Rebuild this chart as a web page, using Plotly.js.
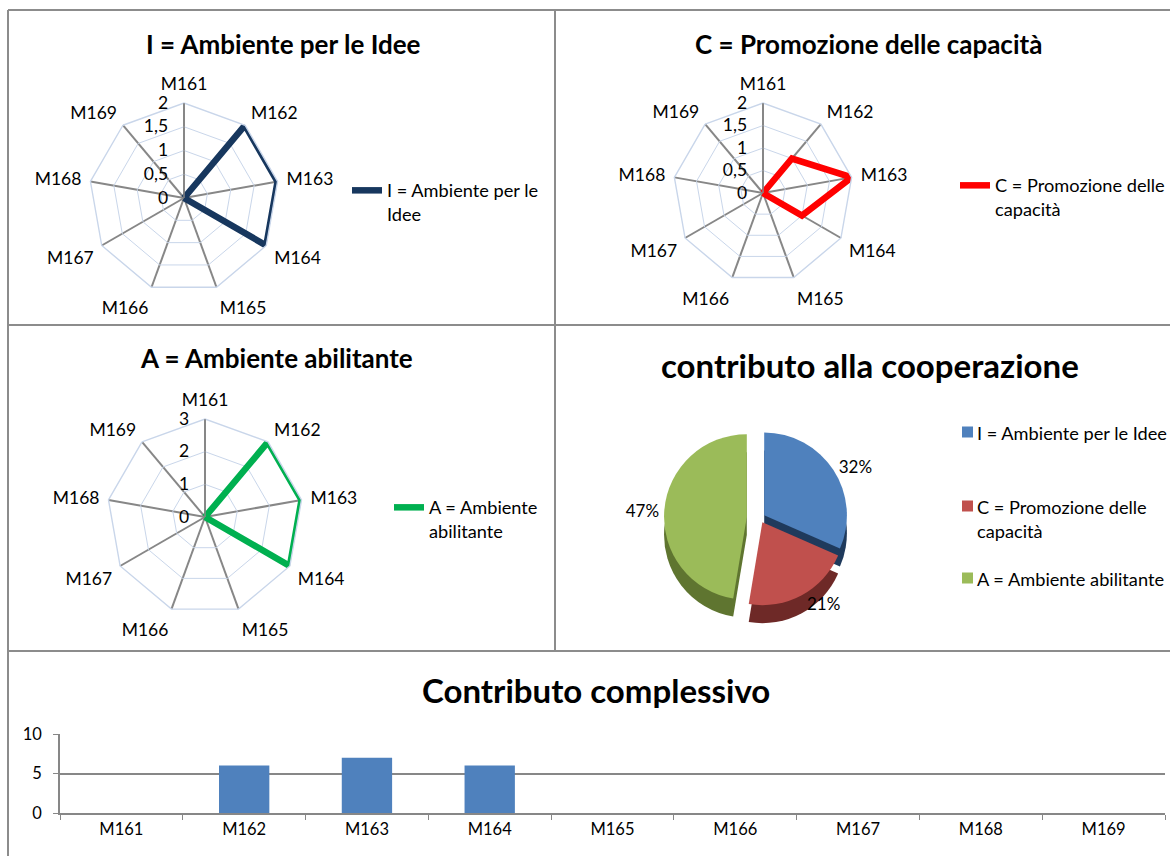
<!DOCTYPE html>
<html>
<head>
<meta charset="utf-8">
<script src="https://cdn.plot.ly/plotly-3.0.1.min.js"></script>
<style>
html,body{margin:0;padding:0;background:#fff;}
#chart{width:1170px;height:856px;}
</style>
</head>
<body>
<div id="chart"></div>
<script>
// ---- data ----
const categories = ['M161','M162','M163','M164','M165','M166','M167','M168','M169'];
const valuesI = [0, 2, 2, 2, 0, 0, 0, 0, 0];
const valuesC = [0, 1, 2, 1, 0, 0, 0, 0, 0];
const valuesA = [0, 3, 3, 3, 0, 0, 0, 0, 0];
const seriesNames = ['I = Ambiente per le Idee', 'C = Promozione delle capacità', 'A = Ambiente abilitante'];
const radarLegendLabels = ['I = Ambiente per le<br>Idee', 'C = Promozione delle<br>capacità', 'A = Ambiente<br>abilitante'];
const pieValues = [6, 4, 9];
const pieLegendLabels = ['I = Ambiente per le Idee', 'C = Promozione delle<br>capacità', 'A = Ambiente abilitante'];
const barValues = [0, 6, 7, 6, 0, 0, 0, 0, 0];
const chartTitles = ['I = Ambiente per le Idee', 'C = Promozione delle capacità', 'A = Ambiente abilitante', 'contributo alla cooperazione', 'Contributo complessivo'];

// ---- helpers (pixel -> paper) ----
const W = 1170, H = 856;
const px = x => x / W;
const py = y => 1 - y / H;
const FONT = 'Lato, "Open Sans", sans-serif';
const SPOKE = '#878787';
const RING = '#C9D6EA';
const TXT = 18.2;

function closeLoop(arr){ return arr.concat([arr[0]]); }

function radarTrace(vals, name, legendLabel, color, subplot, legendId){
  return {
    type:'scatterpolar', mode:'lines',
    r: closeLoop(vals), theta: closeLoop(categories),
    name: legendLabel, subplot: subplot, legend: legendId,
    line:{color:color, width:6.5},
    hovertemplate: name + '<br>%{theta}: %{r}<extra></extra>'
  };
}

function polarLayout(cx, cy, rad, rmax, dtick){
  return {
    domain:{x:[px(cx-rad), px(cx+rad)], y:[py(cy+rad), py(cy-rad)]},
    bgcolor:'rgba(0,0,0,0)',
    gridshape:'linear',
    radialaxis:{
      range:[0, rmax], tick0:0, dtick:dtick, angle:90, side:'counterclockwise', tickangle:90,
      showline:true, linecolor:SPOKE, linewidth:1.5,
      gridcolor:RING, gridwidth:1.4, ticks:'outside', ticklen:9, tickcolor:'rgba(0,0,0,0)',
      tickfont:{family:FONT, size:17.5, color:'#000'}
    },
    angularaxis:{
      type:'category', categoryarray:categories, rotation:90, direction:'clockwise',
      gridcolor:SPOKE, gridwidth:1.6, showline:true, linecolor:RING, linewidth:1.4,
      ticks:'outside', ticklen:5, tickcolor:'rgba(0,0,0,0)',
      tickfont:{family:FONT, size:17.5, color:'#000'}
    }
  };
}

const pieDomX = [px(605), px(915)];
const traces = [
  radarTrace(valuesI, seriesNames[0], radarLegendLabels[0], '#17375E', 'polar', 'legend'),
  radarTrace(valuesC, seriesNames[1], radarLegendLabels[1], '#FF0000', 'polar2', 'legend2'),
  radarTrace(valuesA, seriesNames[2], radarLegendLabels[2], '#00B050', 'polar3', 'legend3'),
  // pie "depth" layer
  {
    type:'pie', values:pieValues, labels:seriesNames, sort:false, direction:'clockwise', rotation:0,
    marker:{colors:['#1F3A5C','#6E2927','#5F7530']},
    pull:[0.06,0.06,0.16], textinfo:'none', hoverinfo:'skip', showlegend:false,
    domain:{x:pieDomX, y:[py(632), py(440)]}
  },
  {
    type:'pie', values:pieValues, labels:seriesNames, sort:false, direction:'clockwise', rotation:0,
    marker:{colors:['#4F81BD','#C0504D','#9BBB59']},
    pull:[0.06,0.06,0.16], textposition:'outside', texttemplate:'%{percent:.0%}',
    textfont:{family:FONT, size:17, color:'#000'}, showlegend:false,
    domain:{x:pieDomX, y:[py(614), py(422)]}
  },
  {
    type:'bar', x:categories, y:barValues, xaxis:'x', yaxis:'y',
    marker:{color:'#4F81BD'}, showlegend:false, name:'Contributo complessivo'
  }
];

const legendBase = {
  bgcolor:'rgba(0,0,0,0)', xanchor:'left', yanchor:'top', valign:'top',
  font:{family:FONT, size:TXT, color:'#000'}, itemwidth:30
};

const pieLegendColors = ['#4F81BD','#C0504D','#9BBB59'];
const pieLegendY = [432, 506, 578];

const shapes = [
  // panel borders
  {type:'line', xref:'paper', yref:'paper', x0:px(8), x1:px(1170), y0:py(10), y1:py(10), line:{color:'#8C8C8C', width:2}},
  {type:'line', xref:'paper', yref:'paper', x0:px(8), x1:px(8), y0:py(10), y1:py(856), line:{color:'#8C8C8C', width:2}},
  {type:'line', xref:'paper', yref:'paper', x0:px(555), x1:px(555), y0:py(10), y1:py(651), line:{color:'#8C8C8C', width:2}},
  {type:'line', xref:'paper', yref:'paper', x0:px(8), x1:px(1170), y0:py(325), y1:py(325), line:{color:'#8C8C8C', width:2}},
  {type:'line', xref:'paper', yref:'paper', x0:px(8), x1:px(1170), y0:py(651), y1:py(651), line:{color:'#8C8C8C', width:2}}
];
pieLegendY.forEach((y, i) => {
  shapes.push({type:'rect', xref:'paper', yref:'paper', x0:px(962), x1:px(973), y0:py(y+5.5), y1:py(y-5.5),
    fillcolor:pieLegendColors[i], line:{width:0}});
});

const annotations = [
  {text:chartTitles[0], x:px(283), y:py(44)},
  {text:chartTitles[1], x:px(868), y:py(44)},
  {text:chartTitles[2], x:px(276), y:py(358)},
  {text:chartTitles[3], x:px(870), y:py(365), size:33},
  {text:chartTitles[4], x:px(596), y:py(690), size:33}
].map(a => ({
  text:a.text, x:a.x, y:a.y, xref:'paper', yref:'paper', xanchor:'center', yanchor:'middle', showarrow:false,
  font:{family:FONT, size:a.size || 26, weight:700, color:'#000'}
}));
pieLegendY.forEach((y, i) => {
  annotations.push({text:pieLegendLabels[i], x:px(975), y:py(y-12), xref:'paper', yref:'paper',
    xanchor:'left', yanchor:'top', align:'left', showarrow:false,
    font:{family:FONT, size:TXT, color:'#000'}});
});

const layout = {
  width:W, height:H, autosize:false,
  margin:{l:0, r:0, t:0, b:0},
  paper_bgcolor:'#fff', plot_bgcolor:'rgba(0,0,0,0)',
  separators:',.',
  font:{family:FONT, color:'#000'},
  polar: polarLayout(184, 198, 95, 2, 0.5),
  polar2: polarLayout(763, 193, 90, 2, 0.5),
  polar3: polarLayout(205, 517, 98, 3, 1),
  legend: Object.assign({}, legendBase, {x:px(347), y:py(172)}),
  legend2: Object.assign({}, legendBase, {x:px(955), y:py(167)}),
  legend3: Object.assign({}, legendBase, {x:px(389), y:py(489)}),
  xaxis:{
    domain:[px(60), px(1165)], anchor:'y', type:'category', categoryarray:categories,
    showline:true, linecolor:SPOKE, linewidth:1.5, ticks:'outside', tickson:'boundaries', ticklen:5, tickcolor:SPOKE,
    showgrid:false, tickfont:{family:FONT, size:16.5, color:'#000'}, fixedrange:true
  },
  yaxis:{
    domain:[py(813), py(734)], anchor:'x', range:[0, 10], dtick:5, tick0:0,
    showline:true, linecolor:SPOKE, linewidth:1.5, ticks:'outside', ticklen:5, tickcolor:SPOKE,
    gridcolor:SPOKE, gridwidth:1.5, zeroline:false, ticklabelstandoff:8,
    tickfont:{family:FONT, size:16.5, color:'#000'}, fixedrange:true
  },
  bargap:0.59,
  shapes:shapes,
  annotations:annotations
};

Plotly.newPlot('chart', traces, layout, {displayModeBar:false});
</script>
</body>
</html>
